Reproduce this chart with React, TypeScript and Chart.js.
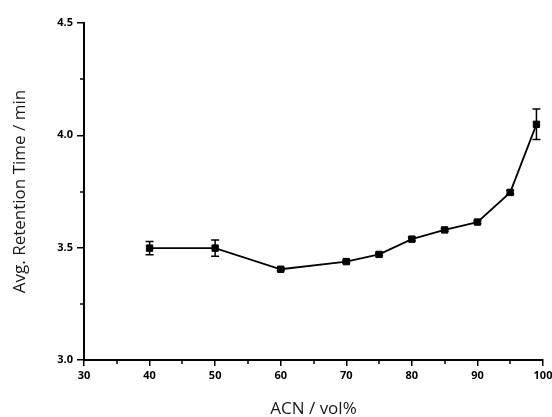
import { useEffect, useRef } from "react";
import { Chart, registerables } from "chart.js";

Chart.register(...registerables);

// ACN content (vol%) vs. average retention time (min) with standard deviations
const acnPercent = [40, 50, 60, 70, 75, 80, 85, 90, 95, 99];
const retentionTime = [3.498, 3.498, 3.404, 3.438, 3.47, 3.538, 3.579, 3.614, 3.746, 4.049];
const retentionError = [0.03, 0.036, 0.006, 0.006, 0.006, 0.008, 0.006, 0.006, 0.008, 0.068];

const xTicks = [30, 40, 50, 60, 70, 80, 90, 100];
const xMinorTicks = [35, 45, 55, 65, 75, 85, 95];
const yTicks = [3.0, 3.5, 4.0, 4.5];
const yMinorTicks = [3.25, 3.75, 4.25];

const xTitle = "ACN / vol%";
const yTitle = "Avg. Retention Time / min";

const INK = "#000000";

// Vertical error bars with caps, drawn under the markers
const errorBarPlugin = {
  id: "errorBars",
  beforeDatasetsDraw(chart: any) {
    const { ctx, scales } = chart;
    const xs = scales.x;
    const ys = scales.y;
    ctx.save();
    ctx.strokeStyle = INK;
    ctx.lineWidth = 1.5;
    const cap = 4;
    acnPercent.forEach((xv, i) => {
      const px = xs.getPixelForValue(xv);
      const top = ys.getPixelForValue(retentionTime[i] + retentionError[i]);
      const bot = ys.getPixelForValue(retentionTime[i] - retentionError[i]);
      ctx.beginPath();
      ctx.moveTo(px, top);
      ctx.lineTo(px, bot);
      ctx.moveTo(px - cap, top);
      ctx.lineTo(px + cap, top);
      ctx.moveTo(px - cap, bot);
      ctx.lineTo(px + cap, bot);
      ctx.stroke();
    });
    ctx.restore();
  },
};

// Short minor tick marks on both axes
const minorTickPlugin = {
  id: "minorTicks",
  afterDraw(chart: any) {
    const { ctx, scales, chartArea } = chart;
    ctx.save();
    ctx.strokeStyle = INK;
    ctx.lineWidth = 1.5;
    ctx.beginPath();
    xMinorTicks.forEach((v) => {
      const px = Math.round(scales.x.getPixelForValue(v));
      ctx.moveTo(px, chartArea.bottom);
      ctx.lineTo(px, chartArea.bottom + 4);
    });
    yMinorTicks.forEach((v) => {
      const py = Math.round(scales.y.getPixelForValue(v));
      ctx.moveTo(chartArea.left - 4, py);
      ctx.lineTo(chartArea.left, py);
    });
    ctx.stroke();
    ctx.restore();
  },
};

export default function App() {
  const canvasRef = useRef<HTMLCanvasElement | null>(null);

  useEffect(() => {
    if (!canvasRef.current) return;
    const tickFont = { family: "'Open Sans', 'DejaVu Sans', sans-serif", size: 11, weight: "bold" as const };
    const titleFont = { family: "'Open Sans', 'DejaVu Sans', sans-serif", size: 17, weight: "normal" as const };

    const chart = new Chart(canvasRef.current, {
      type: "scatter",
      data: {
        datasets: [
          {
            data: acnPercent.map((x, i) => ({ x, y: retentionTime[i] })),
            showLine: true,
            borderColor: INK,
            borderWidth: 1.8,
            backgroundColor: INK,
            pointStyle: "rect",
            pointRadius: 4.5,
            pointBorderWidth: 1,
            pointBorderColor: INK,
            pointBackgroundColor: INK,
          },
        ],
      },
      options: {
        animation: false,
        responsive: true,
        maintainAspectRatio: false,
        layout: { padding: { left: 0, top: 23, right: 9, bottom: 0 } },
        plugins: {
          legend: { display: false },
          tooltip: { enabled: false },
        },
        scales: {
          x: {
            type: "linear",
            min: 30,
            max: 100,
            afterBuildTicks: (scale: any) => {
              scale.ticks = xTicks.map((value) => ({ value }));
            },
            afterFit: (scale: any) => {
              scale.height = 57;
              scale.paddingLeft = 0;
              scale.paddingRight = 0;
            },
            ticks: {
              color: INK,
              font: tickFont,
              padding: 3,
              maxRotation: 0,
              autoSkip: false,
              callback: (v: any) => String(v),
            },
            grid: {
              drawOnChartArea: false,
              drawTicks: true,
              tickLength: 6,
              tickColor: INK,
              lineWidth: 1.5,
            },
            border: { display: true, color: INK, width: 2 },
            title: {
              display: true,
              text: xTitle,
              color: "#1a1a1a",
              font: titleFont,
              padding: { top: 0, bottom: -2 },
            },
          },
          y: {
            type: "linear",
            min: 3.0,
            max: 4.5,
            afterBuildTicks: (scale: any) => {
              scale.ticks = yTicks.map((value) => ({ value }));
            },
            afterFit: (scale: any) => {
              scale.width = 84;
              scale.paddingTop = 0;
              scale.paddingBottom = 0;
            },
            ticks: {
              color: INK,
              font: tickFont,
              padding: 4,
              autoSkip: false,
              callback: (v: any) => Number(v).toFixed(1),
            },
            grid: {
              drawOnChartArea: false,
              drawTicks: true,
              tickLength: 7,
              tickColor: INK,
              lineWidth: 1.5,
            },
            border: { display: true, color: INK, width: 2 },
            title: {
              display: true,
              text: yTitle,
              color: "#1a1a1a",
              font: titleFont,
              padding: { top: 10, bottom: 0 },
            },
          },
        },
      },
      plugins: [errorBarPlugin, minorTickPlugin],
    });

    return () => chart.destroy();
  }, []);

  return (
    <div
      style={{
        position: "fixed",
        left: 0,
        top: 0,
        width: 552,
        height: 417,
        background: "#ffffff",
      }}
    >
      <canvas ref={canvasRef} />
    </div>
  );
}
